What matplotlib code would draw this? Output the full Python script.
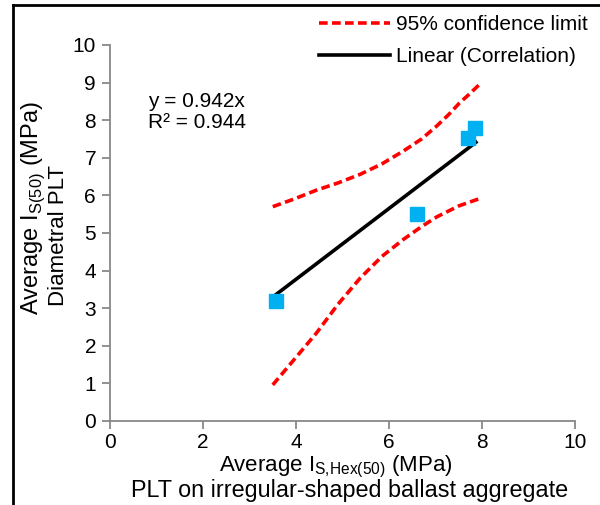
import matplotlib.pyplot as plt
from matplotlib.lines import Line2D

plt.rcParams['font.family'] = ['Liberation Sans', 'DejaVu Sans']

# measured points
x_pts = [3.57, 6.6, 7.7, 7.85]
y_pts = [3.2, 5.5, 7.52, 7.8]

# linear fit through origin
slope = 0.942
x_fit = [3.55, 7.87]

# 95% confidence limits
x_up = [3.5, 3.95, 4.44, 4.9, 5.38, 5.85, 6.31, 6.7, 7.03, 7.3, 7.51, 7.75, 7.97]
y_up = [5.70, 5.9, 6.14, 6.33, 6.56, 6.84, 7.18, 7.5, 7.85, 8.17, 8.45, 8.72, 8.98]
x_lo = [3.5, 3.95, 4.44, 4.9, 5.38, 5.85, 6.31, 6.7, 7.03, 7.5, 7.96]
y_lo = [0.96, 1.62, 2.34, 3.1, 3.8, 4.38, 4.83, 5.17, 5.43, 5.72, 5.92]

fig = plt.figure(figsize=(6, 5.05), dpi=100)
ax = fig.add_axes([110 / 600, 1 - 421 / 505, 465 / 600, 376 / 505])

dash = (0, (2.4, 1.2))
l1, = ax.plot(x_up, y_up, color='#ff0000', lw=2.6, ls=dash,
              label='95% confidence limit')
ax.plot(x_lo, y_lo, color='#ff0000', lw=2.6, ls=dash)
l2, = ax.plot(x_fit, [slope * v for v in x_fit], color='black', lw=2.6,
              label='Linear (Correlation)')
ax.plot(x_pts, y_pts, 's', color='#00b0f0', ms=10, zorder=5)

ax.set_xlim(0, 10)
ax.set_ylim(0, 10)
ax.set_xticks(range(0, 11, 2))
ax.set_yticks(range(0, 11))
for s in ['top', 'right']:
    ax.spines[s].set_visible(False)
for s in ['left', 'bottom']:
    ax.spines[s].set_color('#888888')
    ax.spines[s].set_linewidth(1.3)
ax.tick_params(colors='#888888', labelcolor='black', labelsize=15,
               length=6, width=1.3, pad=4)
ax.tick_params(axis='x', pad=2.5)

ax.text(0.82, 8.51, 'y = 0.942x', fontsize=15, va='center')
ax.text(0.82, 7.95, 'R² = 0.944', fontsize=15, va='center')

leg = fig.legend(handles=[l1, l2], loc='upper right',
                 bbox_to_anchor=(588 / 600, 1 - 15 / 505),
                 frameon=False, fontsize=15, handlelength=3.4,
                 handletextpad=0.3, labelspacing=0.62, borderaxespad=0,
                 borderpad=0)

fig.text(33 / 600, 1 - 208 / 505, 'Average I$_{\\mathregular{S(50)}}$ (MPa)',
         rotation=90, ha='center', va='center', fontsize=17)
fig.text(59 / 600, 1 - 236 / 505, 'Diametral PLT', rotation=90,
         ha='center', va='center', fontsize=16)
fig.text(336 / 600, 1 - 467 / 505,
         'Average I$_{\\mathregular{S{,}Hex(50)}}$ (MPa)',
         ha='center', va='center', fontsize=16)
fig.text(350 / 600, 1 - 491 / 505, 'PLT on irregular-shaped ballast aggregate',
         ha='center', va='center', fontsize=16.8)

# frame lines of the original picture
fig.add_artist(Line2D([13 / 600, 13 / 600], [0, 1 - 5 / 505], color='black', lw=2))
fig.add_artist(Line2D([13 / 600, 1], [1 - 5 / 505, 1 - 5 / 505], color='black', lw=2))

fig.savefig('out.png')
